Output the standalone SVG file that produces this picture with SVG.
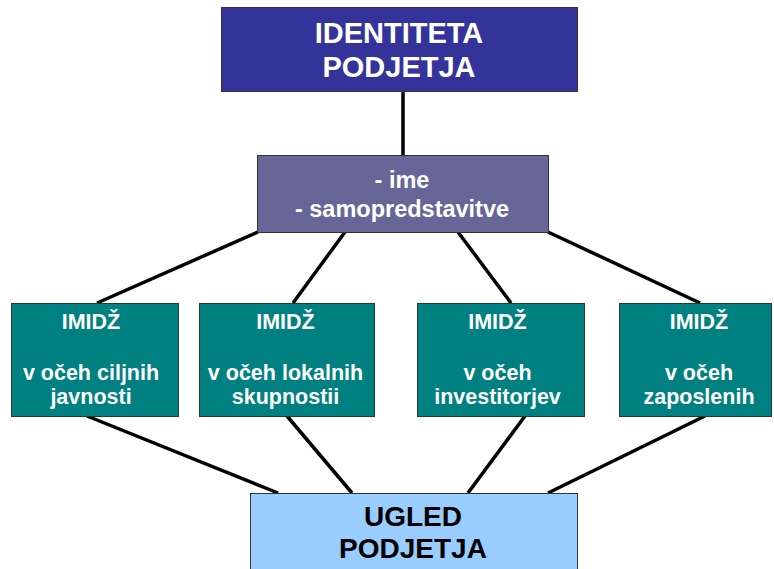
<svg xmlns="http://www.w3.org/2000/svg" width="774" height="569" viewBox="0 0 774 569">
  <style>
    .box { stroke: #333333; stroke-width: 1; }
    .lbl { font-family: "Liberation Sans", Arial, sans-serif; font-weight: bold; text-anchor: middle; }
    .w { fill: #ffffff; }
    .k { fill: #000000; }
    .top { font-size: 29px; }
    .big { font-size: 28px; }
    .mid { font-size: 23.5px; }
    .sm { font-size: 21.5px; }
    #connectors line { stroke: #000000; stroke-width: 3.5; stroke-linecap: butt; }
  </style>
  <rect width="774" height="569" fill="#ffffff"/>

  <!-- connectors drawn first so boxes cover the ends -->
  <g id="connectors">
    <line x1="403" y1="91" x2="403" y2="155"/>
    <line x1="258" y1="232" x2="97" y2="303"/>
    <line x1="345" y1="232" x2="293" y2="303"/>
    <line x1="458" y1="232" x2="511" y2="303"/>
    <line x1="548" y1="232" x2="700" y2="303"/>
    <line x1="87" y1="416" x2="278" y2="493"/>
    <line x1="287" y1="416" x2="352" y2="493"/>
    <line x1="525" y1="416" x2="468" y2="493"/>
    <line x1="705" y1="416" x2="548" y2="493"/>
  </g>

  <g id="identiteta">
    <rect class="box" x="221.5" y="7.5" width="356" height="84" fill="#333399"/>
    <text class="lbl w top" x="399" y="43">IDENTITETA</text>
    <text class="lbl w top" x="399" y="77">PODJETJA</text>
  </g>

  <g id="ime">
    <rect class="box" x="257.5" y="155.5" width="291" height="77" fill="#666699"/>
    <text class="lbl w mid" x="402" y="188">- ime</text>
    <text class="lbl w mid" x="402" y="217">- samopredstavitve</text>
  </g>

  <g id="imidz-ciljne">
    <rect class="box" x="11.5" y="303.5" width="167" height="113" fill="#008080"/>
    <text class="lbl w sm" x="91" y="329">IMIDŽ</text>
    <text class="lbl w sm" x="91" y="380">v očeh ciljnih</text>
    <text class="lbl w sm" x="91" y="404">javnosti</text>
  </g>

  <g id="imidz-lokalne">
    <rect class="box" x="199.5" y="303.5" width="175" height="113" fill="#008080"/>
    <text class="lbl w sm" x="285.5" y="329">IMIDŽ</text>
    <text class="lbl w sm" x="285.5" y="380">v očeh lokalnih</text>
    <text class="lbl w sm" x="285.5" y="404">skupnostii</text>
  </g>

  <g id="imidz-investitorji">
    <rect class="box" x="417.5" y="303.5" width="167" height="113" fill="#008080"/>
    <text class="lbl w sm" x="497.5" y="329">IMIDŽ</text>
    <text class="lbl w sm" x="497.5" y="380">v očeh</text>
    <text class="lbl w sm" x="497.5" y="404">investitorjev</text>
  </g>

  <g id="imidz-zaposleni">
    <rect class="box" x="619.5" y="303.5" width="152" height="113" fill="#008080"/>
    <text class="lbl w sm" x="699" y="329">IMIDŽ</text>
    <text class="lbl w sm" x="699" y="380">v očeh</text>
    <text class="lbl w sm" x="699" y="404">zaposlenih</text>
  </g>

  <g id="ugled">
    <rect class="box" x="250.5" y="493.5" width="327" height="80" fill="#99CCFF"/>
    <text class="lbl k big" x="413" y="526">UGLED</text>
    <text class="lbl k big" x="413" y="558">PODJETJA</text>
  </g>
</svg>
